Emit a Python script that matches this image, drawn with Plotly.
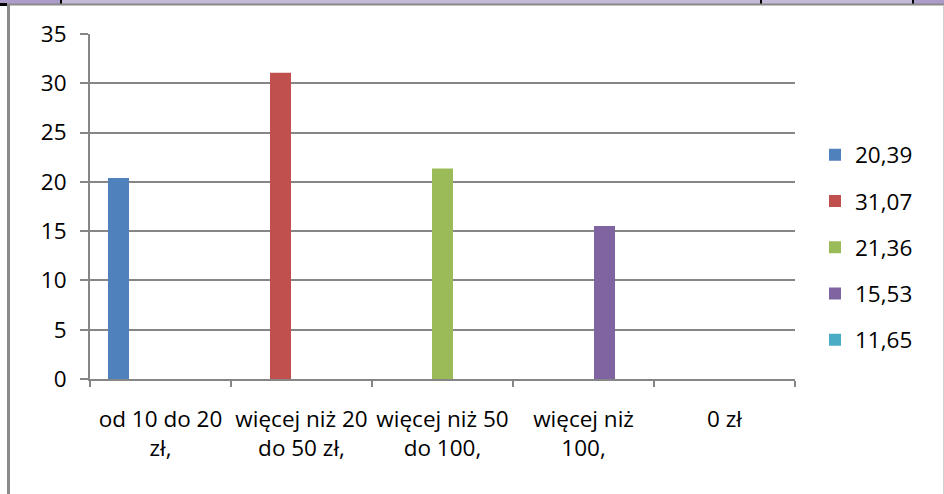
import plotly.graph_objects as go

categories = ["od 10 do 20<br>zł,", "więcej niż 20<br>do 50 zł,", "więcej niż 50<br>do 100,", "więcej niż<br>100,", "0 zł"]
series_names = ["20,39", "31,07", "21,36", "15,53", "11,65"]
s1 = [20.39, None, None, None, None]
s2 = [None, 31.07, None, None, None]
s3 = [None, None, 21.36, None, None]
s4 = [None, None, None, 15.53, None]
s5 = [None, None, None, None, None]
series_values = [s1, s2, s3, s4, s5]
colors = ["#4f81bd", "#c0504d", "#9bbb59", "#8064a2", "#4bacc6"]

W, H = 944, 494
L, R, T, B = 90, 149, 34, 115
PW, PH = W - L - R, H - T - B

def px(x):
    return (x - L) / PW

def py(y):
    return (H - B - y) / PH

fig = go.Figure()
for i, (name, vals) in enumerate(zip(series_names, series_values)):
    fig.add_trace(go.Bar(x=categories, y=vals, name=name, marker_color=colors[i],
                         marker_line_width=0, legendgroup=name))

FONT = "Open Sans"
FS = 22.5
grid = "#868686"
fig.update_layout(
    width=W, height=H,
    margin=dict(l=L, r=R, t=T, b=B, autoexpand=False),
    paper_bgcolor="white", plot_bgcolor="white",
    barmode="group", bargap=0.255, bargroupgap=0,
    font=dict(family=FONT, size=FS, color="black"),
    showlegend=True,
    legend=dict(x=px(815), xanchor="left", y=py(247.5), yanchor="middle",
                font=dict(family=FONT, size=FS, color="black"),
                tracegroupgap=14, bgcolor="rgba(0,0,0,0)"),
    xaxis=dict(type="category", tickson="boundaries", ticks="outside", ticklen=6,
               tickcolor=grid, tickwidth=2, showline=True, linecolor=grid, linewidth=2,
               showgrid=False, tickfont=dict(family=FONT, size=FS, color="black"),
               tickangle=0, automargin=False,
               ticklabelstandoff=19, range=[-0.5, 4.5]),
    yaxis=dict(range=[0, 35], dtick=5, ticks="outside", ticklen=8, tickcolor=grid,
               tickwidth=2, showline=True, linecolor=grid, linewidth=2, automargin=False,
               showgrid=True, gridcolor=grid, gridwidth=2, zeroline=False,
               tickfont=dict(family=FONT, size=FS, color="black"), ticklabelstandoff=9),
)

shapes = []
# document table strip at top
shapes.append(dict(type="rect", xref="paper", yref="paper", x0=px(0), x1=px(944), y0=py(4), y1=py(0),
                   fillcolor="#c3b9d9", line_width=0, layer="above"))
shapes.append(dict(type="rect", xref="paper", yref="paper", x0=px(0), x1=px(61), y0=py(4), y1=py(0),
                   fillcolor="#ab9cc9", line_width=0, layer="above"))
shapes.append(dict(type="rect", xref="paper", yref="paper", x0=px(913), x1=px(944), y0=py(4), y1=py(0),
                   fillcolor="#ab9cc9", line_width=0, layer="above"))
for xv in [61, 761, 913]:
    shapes.append(dict(type="line", xref="paper", yref="paper", x0=px(xv), x1=px(xv), y0=py(4), y1=py(0),
                       line=dict(color="black", width=2), layer="above"))
shapes.append(dict(type="line", xref="paper", yref="paper", x0=px(0), x1=px(944), y0=py(4.5), y1=py(4.5),
                   line=dict(color="#8a8a8a", width=2), layer="above"))
# chart frame
shapes.append(dict(type="line", xref="paper", yref="paper", x0=px(8.5), x1=px(8.5), y0=py(5), y1=py(494),
                   line=dict(color="#8a8a8a", width=3), layer="above"))
shapes.append(dict(type="line", xref="paper", yref="paper", x0=px(943.5), x1=px(943.5), y0=py(5), y1=py(494),
                   line=dict(color="#d0d0d0", width=1), layer="above"))
shapes.append(dict(type="rect", xref="paper", yref="paper", x0=px(0), x1=px(7), y0=py(6), y1=py(3),
                   fillcolor="black", line_width=0, layer="above"))
fig.update_layout(shapes=shapes)

fig.write_html("out.html", config={"displayModeBar": False},
               post_script="document.body.style.margin='0';document.body.style.overflow='hidden';")
